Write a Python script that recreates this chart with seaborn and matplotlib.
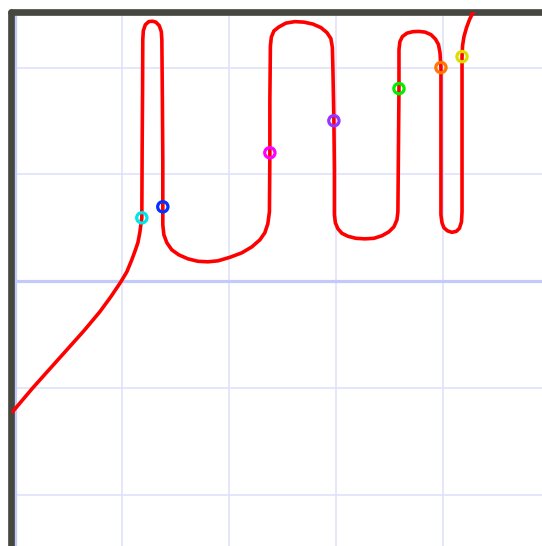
"""
Red looping curve over a pale blue grid, with coloured open markers
where it crosses y = x / 2.
"""

import matplotlib
matplotlib.use("Agg")

import matplotlib.pyplot as plt
import pandas as pd
import seaborn as sns

# curve (data units, one grid cell = 1)
curve_x = [
    -0.019, 0.065, 0.168, 0.327, 0.486, 0.645, 0.794, 0.897, 0.991, 1.047,
    1.093, 1.121, 1.150, 1.168, 1.182, 1.187, 1.190, 1.194, 1.196, 1.201,
    1.220, 1.252, 1.285, 1.318, 1.350, 1.369, 1.374, 1.379, 1.383, 1.383,
    1.383, 1.393, 1.421, 1.467, 1.533, 1.617, 1.710, 1.804, 1.897, 2.009,
    2.121, 2.215, 2.290, 2.336, 2.364, 2.379, 2.383, 2.383, 2.388, 2.397,
    2.421, 2.467, 2.533, 2.617, 2.701, 2.785, 2.860, 2.916, 2.953, 2.967,
    2.972, 2.981, 2.986, 2.986, 2.995, 3.019, 3.056, 3.112, 3.187, 3.271,
    3.355, 3.430, 3.495, 3.542, 3.570, 3.579, 3.584, 3.589, 3.589, 3.598,
    3.621, 3.664, 3.720, 3.776, 3.832, 3.888, 3.930, 3.958, 3.972, 3.981,
    3.981, 3.981, 3.991, 4.009, 4.042, 4.084, 4.126, 4.154, 4.173, 4.178,
    4.178, 4.178, 4.183, 4.196, 4.220, 4.248, 4.280, 4.308,
]
curve_y = [
    -1.222, -1.122, -1.000, -0.822, -0.644, -0.466, -0.288, -0.147, -0.007, 0.087,
    0.199, 0.275, 0.359, 0.453, 0.556, 0.593, 1.231, 1.793, 2.261, 2.345,
    2.401, 2.430, 2.434, 2.425, 2.392, 2.336, 2.261, 1.700, 1.138, 0.696,
    0.527, 0.434, 0.359, 0.293, 0.246, 0.209, 0.186, 0.181, 0.190, 0.223,
    0.265, 0.321, 0.387, 0.453, 0.537, 0.649, 1.202, 1.699, 2.202, 2.286,
    2.343, 2.380, 2.416, 2.430, 2.425, 2.407, 2.374, 2.327, 2.271, 2.186,
    1.980, 1.502, 1.043, 0.621, 0.546, 0.490, 0.448, 0.420, 0.401, 0.396,
    0.401, 0.425, 0.462, 0.509, 0.574, 0.649, 1.231, 1.803, 2.168, 2.243,
    2.290, 2.322, 2.336, 2.338, 2.332, 2.308, 2.266, 2.215, 2.140, 2.000,
    1.325, 0.621, 0.546, 0.500, 0.471, 0.457, 0.467, 0.495, 0.556, 0.649,
    1.325, 2.102, 2.205, 2.289, 2.374, 2.449, 2.515, 2.561,
]

# crossing markers
marker_x = [1.187, 1.383, 2.383, 2.981, 3.589, 3.981, 4.178]
marker_y = [0.593, 0.696, 1.202, 1.502, 1.803, 2.000, 2.102]
marker_colors = ["#00e5e5", "#0033ff", "#ff00ff", "#9933ff", "#00ee00", "#ff7700", "#dddd00"]

grid_x = [0, 1, 2, 3, 4]
grid_y = [-2, -1, 0, 1, 2]

sns.set_theme(style="white")

fig = plt.figure(figsize=(5.42, 5.46), dpi=100)
ax = fig.add_axes([11 / 542, 0, 531 / 542, 534 / 546])

ax.set_xlim(-0.035, 4.925)
ax.set_ylim(-2.48, 2.52)
ax.set_xticks(grid_x)
ax.set_yticks(grid_y)
ax.tick_params(length=0, labelleft=False, labelbottom=False)
ax.grid(True, color="#dfe1fb", linewidth=1.2)
ax.axhline(0, color="#c3c9fb", linewidth=2.3, zorder=1)
ax.axvline(0, color="#c3c9fb", linewidth=2.3, zorder=1)

df = pd.DataFrame({"x": curve_x, "y": curve_y})
sns.lineplot(
    data=df, x="x", y="y", sort=False, estimator=None,
    color="#ff0000", linewidth=2.6, solid_joinstyle="round",
    solid_capstyle="round", ax=ax, zorder=3,
)
ax.scatter(
    marker_x, marker_y, s=55, facecolors="none",
    edgecolors=marker_colors, linewidths=2.3, zorder=4,
)
ax.set_xlabel("")
ax.set_ylabel("")

for side in ["right", "bottom"]:
    ax.spines[side].set_visible(False)
for side in ["left", "top"]:
    ax.spines[side].set_color("#474741")
    ax.spines[side].set_linewidth(4.8)
    ax.spines[side].set_capstyle("round")

fig.savefig("out.png", dpi=100)
plt.close(fig)
